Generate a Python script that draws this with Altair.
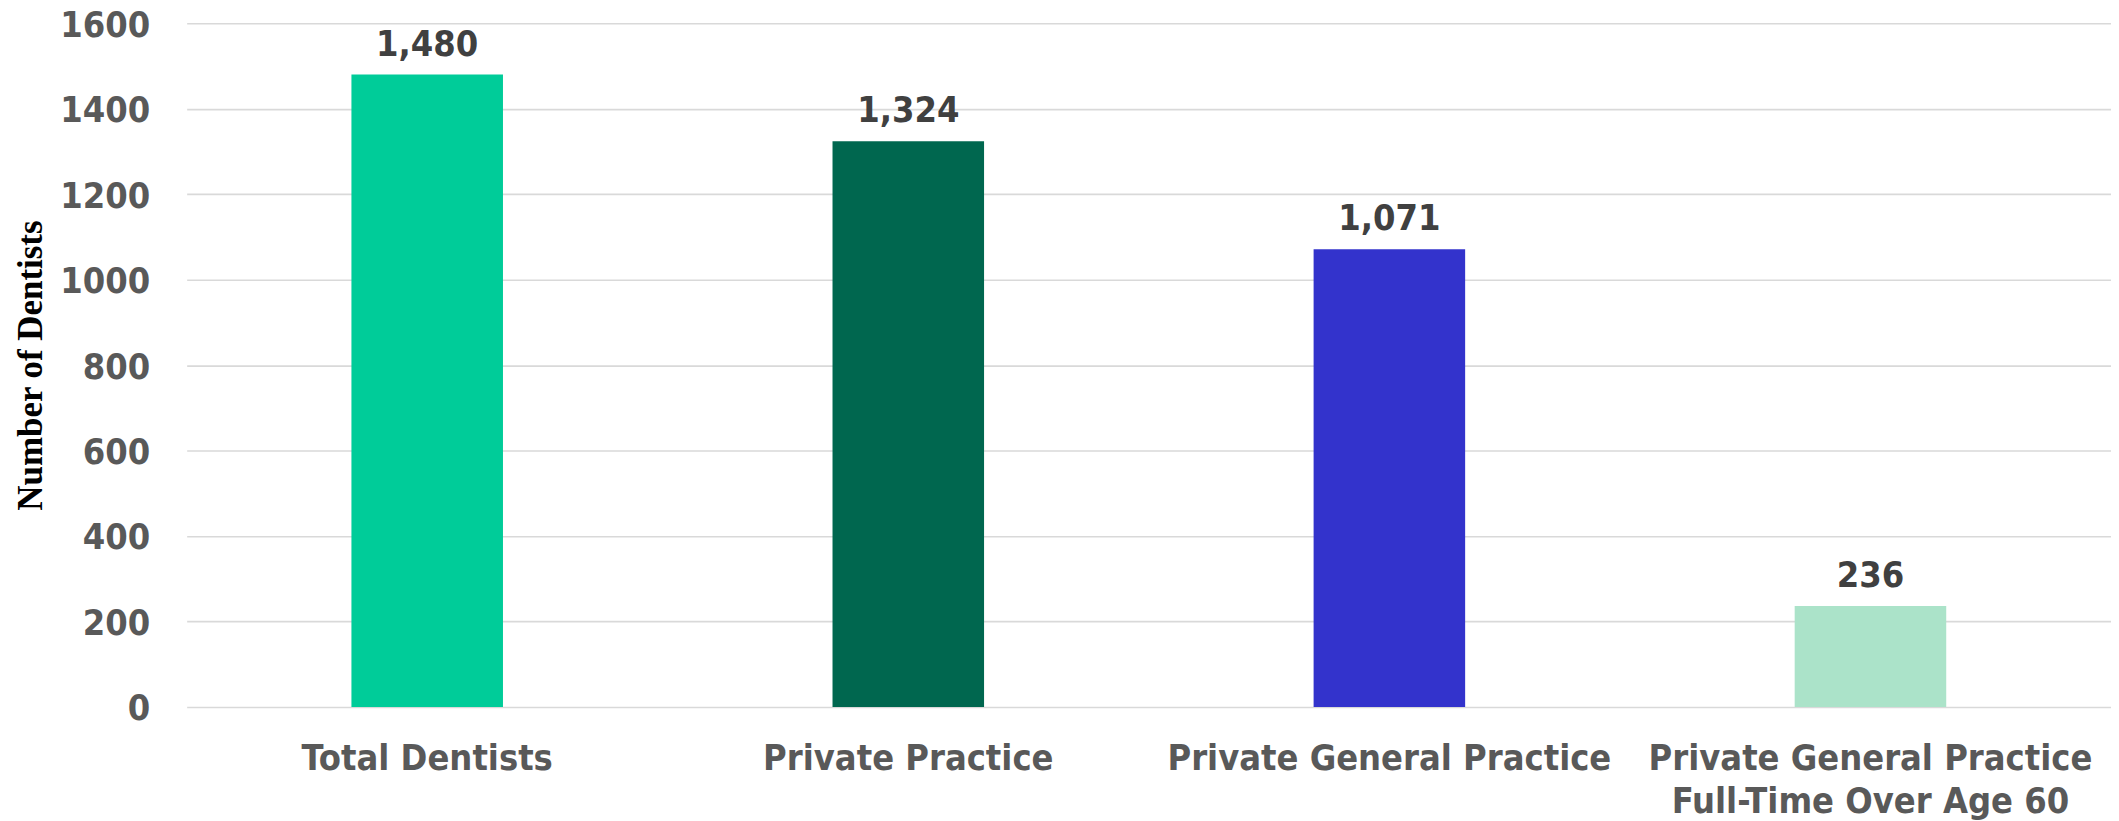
import altair as alt
import pandas as pd

categories = [
    "Total Dentists",
    "Private Practice",
    "Private General Practice",
    "Private General Practice\nFull-Time Over Age 60",
]
values = [1480, 1324, 1071, 236]
bar_colors = ["#00CC99", "#00674F", "#3333CC", "#ABE3C9"]
y_ticks = [0, 200, 400, 600, 800, 1000, 1200, 1400, 1600]

df = pd.DataFrame({"category": categories, "value": values, "color": bar_colors})

SANS = "'DejaVu Sans Condensed', 'Noto Sans', sans-serif"
SERIF = "'Liberation Serif', 'Times New Roman', serif"

PLOT_W = 1928
PLOT_H = 685

base = alt.Chart(df).encode(
    x=alt.X(
        "category:N",
        sort=categories,
        scale=alt.Scale(paddingInner=0.685, paddingOuter=0.3425),
        axis=alt.Axis(
            title=None,
            labelAngle=0,
            labelExpr="split(datum.label, '\\n')",
            labelFont=SANS,
            labelFontSize=36,
            labelFontWeight="bold",
            labelColor="#595959",
            labelPadding=34.5,
            labelLineHeight=43,
            labelBaseline="top",
            labelLimit=1000,
            ticks=False,
            tickSize=0,
            domain=False,
            grid=False,
        ),
    ),
    y=alt.Y(
        "value:Q",
        scale=alt.Scale(domain=[0, 1600], nice=False),
        axis=alt.Axis(
            title="Number of Dentists",
            values=y_ticks,
            format="d",
            labelFont=SANS,
            labelFontSize=36,
            labelFontWeight="bold",
            labelColor="#595959",
            labelPadding=37,
            labelOffset=2,
            labelFlush=False,
            ticks=False,
            tickSize=0,
            domain=False,
            grid=True,
            gridColor="#D9D9D9",
            gridWidth=1.6,
            titleFont=SERIF,
            titleFontSize=35,
            titleFontWeight="bold",
            titleColor="#000000",
            titleAngle=270,
            titleAlign="center",
            titleBaseline="alphabetic",
            titleX=-145,
            titleY=PLOT_H / 2,
        ),
    ),
)

bars = base.mark_bar().encode(color=alt.Color("color:N", scale=None, legend=None))

labels = base.mark_text(
    baseline="alphabetic",
    dy=-19,
    font=SANS,
    fontSize=36,
    fontWeight="bold",
    color="#404040",
).encode(text=alt.Text("value:Q", format=","))

chart = (
    (bars + labels)
    .properties(
        width=PLOT_W,
        height=PLOT_H,
        padding={"left": 179, "top": 14.5, "right": 0, "bottom": 113.5},
        autosize=alt.AutoSizeParams(type="none"),
        background="#FFFFFF",
    )
    .configure_view(stroke=None)
)

chart.save("out.html", embed_options={"renderer": "svg", "actions": False})
